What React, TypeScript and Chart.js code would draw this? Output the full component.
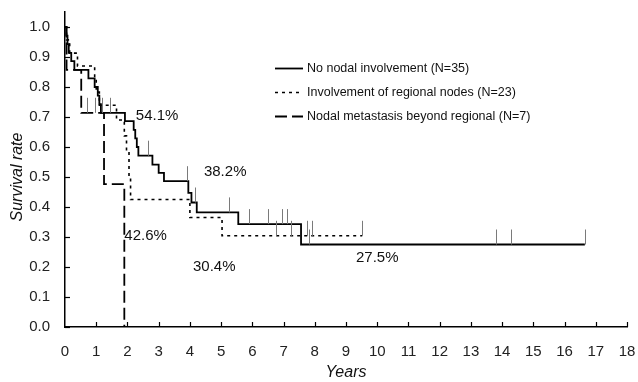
import React, { useEffect, useRef } from 'react';
import { Chart, registerables } from 'chart.js';
Chart.register(...registerables);

// ---- Data ----
const yTickValues = [0, 0.1, 0.2, 0.3, 0.4, 0.5, 0.6, 0.7, 0.8, 0.9, 1.0];
const xTickValues = [0, 1, 2, 3, 4, 5, 6, 7, 8, 9, 10, 11, 12, 13, 14, 15, 16, 17, 18];

const seriesNames = [
  'No nodal involvement (N=35)',
  'Involvement of regional nodes (N=23)',
  'Nodal metastasis beyond regional (N=7)',
];

// No nodal involvement
const noNodalTimes = [0, 0.04, 0.08, 0.12, 0.2, 0.3, 0.75, 0.95, 1.05, 1.1, 1.15, 1.92, 2.2, 2.25, 2.3, 2.35, 2.8, 3.0, 3.17, 3.95, 4.05, 4.22, 5.55, 7.56];
const noNodalSurv = [1.0, 0.971, 0.943, 0.914, 0.886, 0.857, 0.829, 0.8, 0.771, 0.743, 0.714, 0.686, 0.657, 0.629, 0.6, 0.571, 0.541, 0.514, 0.486, 0.447, 0.415, 0.382, 0.343, 0.275];
const noNodalEnd = 16.65;
const noNodalCensor = [1.2, 1.45, 2.65, 3.9, 4.15, 5.25, 5.9, 6.5, 6.95, 7.1, 7.8, 13.8, 14.3, 16.65];

// Involvement of regional nodes
const regionalTimes = [0, 0.05, 0.15, 0.4, 0.95, 1.0, 1.1, 1.65, 1.9, 1.97, 2.05, 2.1, 4.0, 5.03];
const regionalSurv = [1.0, 0.957, 0.913, 0.87, 0.826, 0.783, 0.739, 0.69, 0.637, 0.585, 0.5, 0.425, 0.365, 0.304];
const regionalEnd = 9.52;
const regionalCensor = [6.76, 7.24, 7.75, 7.92, 9.52];

// Nodal metastasis beyond regional
const beyondTimes = [0, 0.05, 0.52, 1.25, 1.9];
const beyondSurv = [1.0, 0.857, 0.714, 0.476, 0.0];
const beyondEnd = 1.9;
const beyondCensor = [0.7, 0.96];

// Annotations
const annotationTexts = ['54.1%', '38.2%', '42.6%', '30.4%', '27.5%'];
const annotationX = [2.27, 4.45, 1.9, 4.1, 9.32];
const annotationY = [0.705, 0.518, 0.303, 0.2, 0.231];

const FONT = '"Liberation Sans", Arial, sans-serif';

function buildPoints(times: number[], surv: number[], end: number) {
  const pts = times.map((t, i) => ({ x: t, y: surv[i] }));
  if (end > times[times.length - 1]) pts.push({ x: end, y: surv[surv.length - 1] });
  return pts;
}

function survAt(times: number[], surv: number[], t: number) {
  let s = surv[0];
  for (let i = 0; i < times.length; i++) if (times[i] <= t) s = surv[i];
  return s;
}

export default function App() {
  const ref = useRef<HTMLCanvasElement | null>(null);

  useEffect(() => {
    const canvas = ref.current;
    if (!canvas) return;

    const groups = [
      { times: noNodalTimes, surv: noNodalSurv, censor: noNodalCensor },
      { times: regionalTimes, surv: regionalSurv, censor: regionalCensor },
      { times: beyondTimes, surv: beyondSurv, censor: beyondCensor },
    ];
    const dashes = [[], [3, 4], [12, 5]];
    const widths = [1.8, 1.6, 1.8];

    const overlay = {
      id: 'overlay',
      afterDatasetsDraw(chart: any) {
        const ctx = chart.ctx;
        const xs = chart.scales.x;
        const ys = chart.scales.y;
        const area = chart.chartArea;
        ctx.save();
        // inward ticks
        ctx.strokeStyle = '#000';
        ctx.lineWidth = 1.2;
        ctx.setLineDash([]);
        yTickValues.forEach((v) => {
          const py = Math.round(ys.getPixelForValue(v)) + 0.5;
          ctx.beginPath();
          ctx.moveTo(area.left, py);
          ctx.lineTo(area.left + 5, py);
          ctx.stroke();
        });
        xTickValues.forEach((v) => {
          if (v === 0) return;
          const px = Math.round(xs.getPixelForValue(v)) + 0.5;
          ctx.beginPath();
          ctx.moveTo(px, area.bottom);
          ctx.lineTo(px, area.bottom - 5);
          ctx.stroke();
        });
        // censor marks
        ctx.strokeStyle = '#7a7a7a';
        ctx.lineWidth = 1;
        groups.forEach((g) => {
          g.censor.forEach((t) => {
            const s = survAt(g.times, g.surv, t);
            const px = Math.round(xs.getPixelForValue(t)) + 0.5;
            ctx.beginPath();
            ctx.moveTo(px, ys.getPixelForValue(s));
            ctx.lineTo(px, ys.getPixelForValue(s + 0.05));
            ctx.stroke();
          });
        });
        // annotations
        ctx.fillStyle = '#111';
        ctx.font = `15px ${FONT}`;
        ctx.textAlign = 'left';
        ctx.textBaseline = 'middle';
        annotationTexts.forEach((txt, i) => {
          ctx.fillText(txt, xs.getPixelForValue(annotationX[i]), ys.getPixelForValue(annotationY[i]));
        });
        // legend
        const lx0 = 275, lx1 = 303, ly0 = 68, lstep = 24;
        seriesNames.forEach((name, i) => {
          const y = ly0 + i * lstep + 0.5;
          ctx.strokeStyle = '#000';
          ctx.lineWidth = widths[i];
          ctx.setLineDash(dashes[i]);
          ctx.beginPath();
          ctx.moveTo(lx0, y);
          ctx.lineTo(lx1, y);
          ctx.stroke();
          ctx.setLineDash([]);
          ctx.fillStyle = '#111';
          ctx.font = `12.5px ${FONT}`;
          ctx.textBaseline = 'middle';
          ctx.fillText(name, lx1 + 4, y);
        });
        // axis titles
        ctx.font = `italic 16px ${FONT}`;
        ctx.fillStyle = '#111';
        ctx.textAlign = 'center';
        ctx.fillText('Years', xs.getPixelForValue(9), 373);
        ctx.save();
        ctx.translate(18, (ys.getPixelForValue(0) + ys.getPixelForValue(1)) / 2);
        ctx.rotate(-Math.PI / 2);
        ctx.fillText('Survival rate', 0, 0);
        ctx.restore();
        ctx.restore();
      },
    };

    const chart = new Chart(canvas, {
      type: 'line',
      data: {
        datasets: groups.map((g, i) => ({
          label: seriesNames[i],
          data: buildPoints(g.times, g.surv, [noNodalEnd, regionalEnd, beyondEnd][i]),
          stepped: 'before' as const,
          borderColor: '#000',
          borderWidth: widths[i],
          borderDash: dashes[i],
          pointRadius: 0,
          fill: false,
        })),
      },
      options: {
        responsive: false,
        animation: false,
        layout: { padding: { top: 12, right: 11, left: 0, bottom: 0 } },
        plugins: { legend: { display: false }, tooltip: { enabled: false } },
        scales: {
          x: {
            type: 'linear',
            min: 0,
            max: 18,
            afterFit: (s: any) => { s.height = 55; s.paddingLeft = 0; s.paddingRight = 0; },
            afterBuildTicks: (s: any) => { s.ticks = xTickValues.map((v) => ({ value: v })); },
            grid: { display: false, drawTicks: false },
            border: { display: true, color: '#000', width: 1.5 },
            ticks: {
              padding: 16,
              color: '#222',
              font: { family: FONT, size: 15 },
              maxRotation: 0,
              autoSkip: false,
              callback: (v: any) => String(v),
            },
          },
          y: {
            type: 'linear',
            min: 0,
            max: 1.05,
            afterFit: (s: any) => { s.width = 65; s.paddingTop = 0; s.paddingBottom = 0; },
            afterBuildTicks: (s: any) => { s.ticks = yTickValues.map((v) => ({ value: v })); },
            grid: { display: false, drawTicks: false },
            border: { display: true, color: '#000', width: 1.5 },
            ticks: {
              padding: 15,
              color: '#222',
              font: { family: FONT, size: 15 },
              callback: (v: any) => Number(v).toFixed(1),
            },
          },
        },
      },
      plugins: [overlay],
    });
    return () => chart.destroy();
  }, []);

  return (
    <div style={{ position: 'absolute', left: 0, top: 0, width: 638, height: 382, background: '#fff' }}>
      <canvas ref={ref} width={638} height={382} />
    </div>
  );
}
